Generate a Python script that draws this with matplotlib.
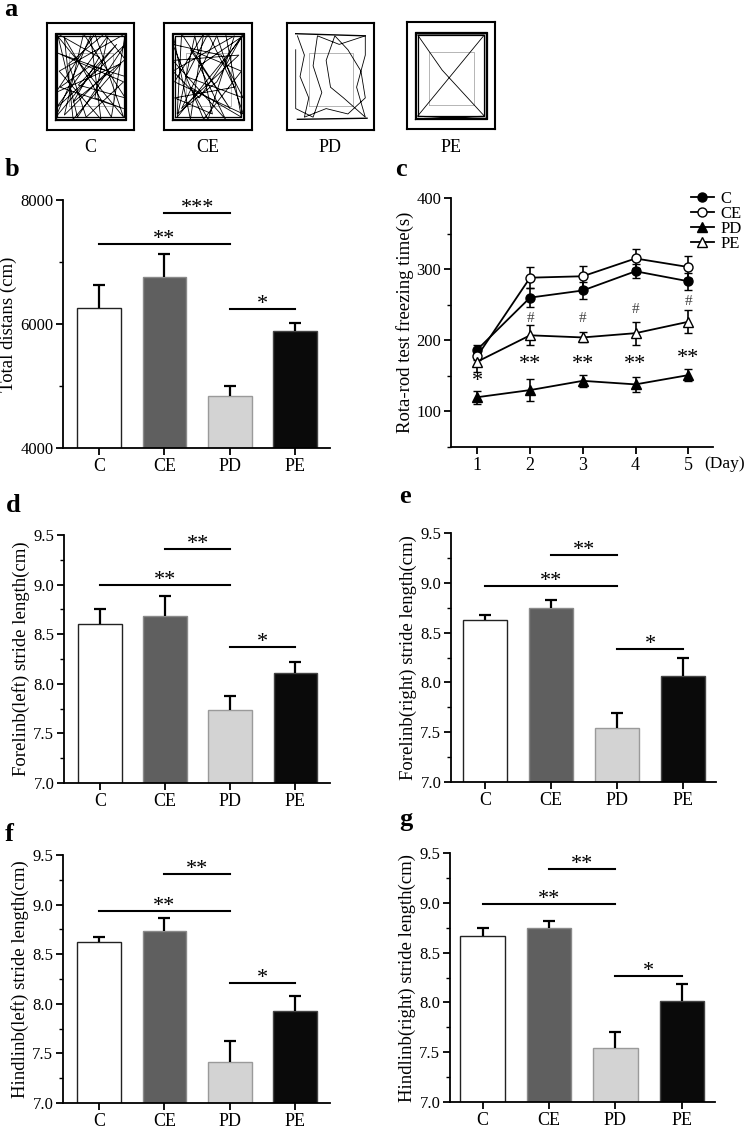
import numpy as np
import matplotlib
matplotlib.use('Agg')
import matplotlib.pyplot as plt
from matplotlib.ticker import MultipleLocator

plt.rcParams['font.family'] = ['Liberation Serif', 'DejaVu Serif']

# ---- data ----
groups = ['C', 'CE', 'PD', 'PE']

# b: open field total distance
dist_mean = [6258, 6763, 4844, 5892]
dist_err = [370, 360, 160, 130]

# c: rota-rod
days = [1, 2, 3, 4, 5]
rod_c = [187, 260, 270, 297, 283]
rod_c_err = [6, 13, 12, 10, 12]
rod_ce = [178, 288, 290, 315, 303]
rod_ce_err = [6, 15, 15, 13, 15]
rod_pd = [120, 130, 143, 138, 151]
rod_pd_err = [9, 15, 8, 10, 8]
rod_pe = [170, 207, 204, 210, 226]
rod_pe_err = [14, 14, 7, 16, 16]
rod_star_days = [1, 2, 3, 4, 5]
rod_star_y = [142, 166, 166, 166, 175]
rod_star_txt = ['*', '**', '**', '**', '**']
rod_hash_days = [2, 3, 4, 5]
rod_hash_y = [230, 230, 243, 255]

# d-g: stride length
fore_left = [8.60, 8.68, 7.74, 8.11]
fore_left_err = [0.15, 0.21, 0.14, 0.11]
fore_right = [8.63, 8.75, 7.54, 8.06]
fore_right_err = [0.05, 0.08, 0.15, 0.18]
hind_left = [8.62, 8.73, 7.41, 7.93]
hind_left_err = [0.05, 0.13, 0.22, 0.15]
hind_right = [8.67, 8.75, 7.54, 8.01]
hind_right_err = [0.08, 0.07, 0.16, 0.17]

# significance brackets: (from, to, height, label)
sig_b = [(1, 2, 7785, '***'), (0, 2, 7290, '**'), (2, 3, 6242, '*')]
sig_d = [(1, 2, 9.356, '**'), (0, 2, 9.0, '**'), (2, 3, 8.376, '*')]
sig_e = [(1, 2, 9.28, '**'), (0, 2, 8.965, '**'), (2, 3, 8.34, '*')]
sig_f = [(1, 2, 9.305, '**'), (0, 2, 8.94, '**'), (2, 3, 8.205, '*')]
sig_g = [(1, 2, 9.34, '**'), (0, 2, 8.99, '**'), (2, 3, 8.27, '*')]

# a: open field tracks (unit box coords)
track_c = [(0.12, 0.88), (0.88, 0.12), (0.55, 0.9), (0.1, 0.35), (0.85, 0.62), (0.3, 0.1),
           (0.2, 0.86), (0.74, 0.12), (0.9, 0.9), (0.14, 0.55), (0.62, 0.1), (0.5, 0.88),
           (0.1, 0.12), (0.8, 0.8), (0.36, 0.42), (0.9, 0.3), (0.42, 0.9), (0.2, 0.14),
           (0.7, 0.55), (0.12, 0.72), (0.88, 0.45), (0.45, 0.12), (0.25, 0.62), (0.66, 0.9),
           (0.9, 0.66), (0.3, 0.26), (0.6, 0.68), (0.12, 0.9), (0.35, 0.12), (0.9, 0.8),
           (0.1, 0.2), (0.7, 0.88), (0.55, 0.3), (0.88, 0.2), (0.15, 0.4), (0.5, 0.6), (0.9, 0.5)]
track_ce = [(0.1, 0.9), (0.3, 0.1), (0.45, 0.9), (0.12, 0.45), (0.9, 0.15), (0.6, 0.88),
            (0.2, 0.2), (0.85, 0.7), (0.1, 0.65), (0.7, 0.1), (0.4, 0.6), (0.9, 0.88),
            (0.15, 0.12), (0.35, 0.88), (0.55, 0.15), (0.12, 0.3), (0.8, 0.4), (0.5, 0.9),
            (0.25, 0.5), (0.9, 0.3), (0.65, 0.7), (0.1, 0.8), (0.45, 0.1), (0.88, 0.55),
            (0.3, 0.75), (0.75, 0.2), (0.2, 0.9), (0.15, 0.15), (0.6, 0.45), (0.9, 0.9),
            (0.4, 0.3), (0.1, 0.55), (0.8, 0.88), (0.5, 0.1), (0.3, 0.4), (0.88, 0.12), (0.7, 0.9)]
track_pd = [(0.12, 0.88), (0.2, 0.7), (0.15, 0.5), (0.25, 0.3), (0.2, 0.12), (0.45, 0.2),
            (0.7, 0.15), (0.9, 0.3), (0.85, 0.55), (0.7, 0.75), (0.55, 0.88), (0.45, 0.65),
            (0.5, 0.4), (0.65, 0.3), (0.9, 0.12), (0.8, 0.4), (0.9, 0.7), (0.9, 0.88),
            (0.6, 0.8), (0.35, 0.88), (0.3, 0.6), (0.4, 0.35), (0.3, 0.12), (0.1, 0.2), (0.1, 0.75)]
track_pe = [(0.1, 0.1), (0.1, 0.9), (0.9, 0.9), (0.9, 0.1), (0.12, 0.12), (0.5, 0.5),
            (0.88, 0.88), (0.12, 0.88), (0.4, 0.55), (0.88, 0.12), (0.2, 0.1)]
tracks = [track_c, track_ce, track_pd, track_pe]

W, H = 746, 1129
fig = plt.figure(figsize=(W / 100, H / 100), dpi=100)


def px_axes(l, t, r, b):
    return fig.add_axes([l / W, 1 - b / H, (r - l) / W, (b - t) / H])


def style_axes(ax):
    for s in ['top', 'right']:
        ax.spines[s].set_visible(False)
    for s in ['left', 'bottom']:
        ax.spines[s].set_linewidth(1.3)
    ax.tick_params(which='major', direction='out', length=5, width=1.3, labelsize=12, pad=2)
    ax.tick_params(which='minor', direction='out', length=3, width=1.0)
    ax.tick_params(axis='x', which='minor', bottom=False)
    ax.tick_params(axis='x', labelsize=13)


# ---- panel a ----
box_px = [(47, 23, 134, 130), (164, 23, 252, 130), (287, 23, 374, 130), (407, 22, 495, 129)]
for k, (l, t, r, b) in enumerate(box_px):
    ax = px_axes(l, t, r, b)
    ax.set_xlim(0, 1)
    ax.set_ylim(0, 1)
    ax.set_xticks([])
    ax.set_yticks([])
    for s in ax.spines.values():
        s.set_linewidth(1.5)
    # centre zone
    ax.plot([0.25, 0.76, 0.76, 0.25, 0.25], [0.22, 0.22, 0.72, 0.72, 0.22], color='#aaaaaa', lw=0.6)
    tx, ty = zip(*tracks[k])
    ax.plot(tx, ty, color='black', lw=0.6)
    if k != 2:
        for off in [0.0, 0.015, 0.03]:
            ax.plot([0.09 + off, 0.91 - off, 0.91 - off, 0.09 + off, 0.09 + off],
                    [0.09 + off, 0.09 + off, 0.91 - off, 0.91 - off, 0.09 + off],
                    color='black', lw=0.9)
    else:
        ax.plot([0.1, 0.9], [0.9, 0.88], color='black', lw=1.0)
        ax.plot([0.12, 0.92], [0.1, 0.11], color='black', lw=1.0)
    fig.text((l + r) / 2 / W, 1 - 152 / H, groups[k], ha='center', va='baseline', fontsize=13)

# ---- bar panels ----
bar_face = ['white', '#5f5f5f', '#d3d3d3', '#0a0a0a']
bar_edge = ['#222222', '#8a8a8a', '#9a9a9a', '#444444']


def bar_panel(ax, means, errs, ylim, major, minor, ylabel, sig, xlim, fmt):
    x = np.arange(len(groups))
    ax.bar(x, means, width=0.67, color=bar_face, edgecolor=bar_edge, linewidth=1.0, zorder=2)
    eb = ax.errorbar(x, means, yerr=[np.zeros(len(x)), errs], fmt='none', ecolor='black',
                     elinewidth=1.6, capsize=4, capthick=1.6, zorder=3)
    for cap in eb[1]:
        if np.allclose(cap.get_ydata(), means):
            cap.set_visible(False)
    for i, j, y, lab in sig:
        ax.plot([i, j], [y, y], color='black', lw=1.5, clip_on=False, zorder=4)
        ax.annotate(lab, ((i + j) / 2, y), xytext=(0, 0), textcoords='offset points',
                    ha='center', va='baseline', fontsize=16)
    ax.set_xlim(*xlim)
    ax.set_ylim(*ylim)
    ax.set_xticks(x)
    ax.set_xticklabels(groups)
    ax.yaxis.set_major_locator(MultipleLocator(major))
    ax.yaxis.set_minor_locator(MultipleLocator(minor))
    ax.yaxis.set_major_formatter(fmt)
    ax.set_ylabel(ylabel, fontsize=13.5, labelpad=2)
    style_axes(ax)


ax_b = px_axes(63, 200, 330, 448)
bar_panel(ax_b, dist_mean, dist_err, (4000, 8000), 2000, 1000, 'Total distans (cm)', sig_b,
          (-0.55, 3.53), '{x:.0f}')

ax_d = px_axes(64, 535, 330, 783)
bar_panel(ax_d, fore_left, fore_left_err, (7.0, 9.5), 0.5, 0.25, 'Forelinb(left) stride length(cm)',
          sig_d, (-0.55, 3.53), '{x:.1f}')

ax_e = px_axes(451, 533, 716, 782)
bar_panel(ax_e, fore_right, fore_right_err, (7.0, 9.5), 0.5, 0.25, 'Forelinb(right) stride length(cm)',
          sig_e, (-0.52, 3.5), '{x:.1f}')

ax_f = px_axes(63, 855, 330, 1103)
bar_panel(ax_f, hind_left, hind_left_err, (7.0, 9.5), 0.5, 0.25, 'Hindlinb(left) stride length(cm)',
          sig_f, (-0.55, 3.53), '{x:.1f}')

ax_g = px_axes(450, 853, 715, 1102)
bar_panel(ax_g, hind_right, hind_right_err, (7.0, 9.5), 0.5, 0.25, 'Hindlinb(right) stride length(cm)',
          sig_g, (-0.49, 3.5), '{x:.1f}')

# ---- panel c ----
ax_c = px_axes(451, 198, 713, 447)
series = [(rod_c, rod_c_err, 'o', 'black', 'C'),
          (rod_ce, rod_ce_err, 'o', 'white', 'CE'),
          (rod_pd, rod_pd_err, '^', 'black', 'PD'),
          (rod_pe, rod_pe_err, '^', 'white', 'PE')]
handles = []
for vals, errs, mk, mfc, lab in series:
    eb = ax_c.errorbar(days, vals, yerr=errs, color='black', lw=1.3, marker=mk, ms=6.5,
                       mfc=mfc, mec='black', mew=1.0, capsize=3, elinewidth=1.2, capthick=1.2,
                       label=lab, zorder=3)
    handles.append(eb[0])
for d, y, t in zip(rod_star_days, rod_star_y, rod_star_txt):
    ax_c.text(d, y, t, ha='center', va='center', fontsize=16)
for d, y in zip(rod_hash_days, rod_hash_y):
    ax_c.text(d, y, '#', ha='center', va='center', fontsize=11, color='#444444')
ax_c.set_xlim(0.5, 5.47)
ax_c.set_ylim(50, 400)
ax_c.set_xticks(days)
ax_c.set_yticks([100, 200, 300, 400])
ax_c.yaxis.set_minor_locator(MultipleLocator(50))
ax_c.set_ylabel('Rota-rod test freezing time(s)', fontsize=13.5, labelpad=2)
style_axes(ax_c)
ax_c.text(0.965, -0.035, '(Day)', transform=ax_c.transAxes, ha='left', va='top', fontsize=12.5)
ax_c.legend(handles, ['C', 'CE', 'PD', 'PE'], loc='upper left', bbox_to_anchor=(0.915, 1.03),
            frameon=False, fontsize=12, labelspacing=-0.05, handlelength=1.4,
            handletextpad=0.4, borderpad=0, borderaxespad=0)

# ---- panel letters ----
letters = [('a', 4, 16), ('b', 5, 176), ('c', 395, 176), ('d', 6, 512),
           ('e', 399, 503), ('f', 5, 841), ('g', 399, 826)]
for lab, x, y in letters:
    fig.text(x / W, 1 - y / H, lab, fontsize=19, fontweight='bold', ha='left', va='baseline')

fig.savefig('out.png', dpi=100)
